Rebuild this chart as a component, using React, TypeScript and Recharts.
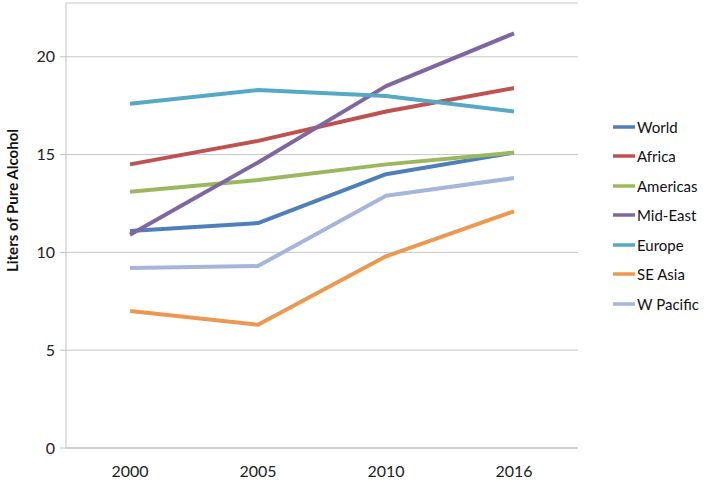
import { LineChart, Line, XAxis, YAxis, CartesianGrid, Legend, Label } from "recharts";

const years = ["2000", "2005", "2010", "2016"];

const world = [11.1, 11.5, 14.0, 15.1];
const africa = [14.5, 15.7, 17.2, 18.4];
const americas = [13.1, 13.7, 14.5, 15.1];
const midEast = [10.9, 14.6, 18.5, 21.2];
const europe = [17.6, 18.3, 18.0, 17.2];
const seAsia = [7.0, 6.3, 9.8, 12.1];
const wPacific = [9.2, 9.3, 12.9, 13.8];

const yTicks = [0, 5, 10, 15, 20];

const SERIES = [
  { key: "world", name: "World", values: world, color: "#4F7FB9" },
  { key: "africa", name: "Africa", values: africa, color: "#BE5250" },
  { key: "americas", name: "Americas", values: americas, color: "#9BB85E" },
  { key: "midEast", name: "Mid-East", values: midEast, color: "#7F66A1" },
  { key: "europe", name: "Europe", values: europe, color: "#55A9C2" },
  { key: "seAsia", name: "SE Asia", values: seAsia, color: "#EC9851" },
  { key: "wPacific", name: "W Pacific", values: wPacific, color: "#A5B6DA" },
];

const data = years.map((year, i) => {
  const row: Record<string, string | number> = { year };
  SERIES.forEach((s) => {
    row[s.key] = s.values[i];
  });
  return row;
});

const FONT = "Lato, 'Open Sans', sans-serif";
const AXIS = "#BFBFBF";

// keep the legend in series order (recharts sorts by name otherwise)
function LegendList() {
  return (
    <div style={{ fontFamily: FONT, fontSize: 15, color: "#111" }}>
      {SERIES.map((s) => (
        <div key={s.key} style={{ height: 29.5, display: "flex", alignItems: "center" }}>
          <svg width={22} height={6} style={{ display: "block" }}>
            <line x1={0} y1={3} x2={22} y2={3} stroke={s.color} strokeWidth={3.5} />
          </svg>
          <span style={{ marginLeft: 2 }}>{s.name}</span>
        </div>
      ))}
    </div>
  );
}

function YTitle(props: any) {
  const vb = props.viewBox || { x: 0, y: 0, width: 0, height: 0 };
  const cx = vb.x + 12;
  const cy = vb.y + vb.height / 2 - 25;
  return (
    <text
      x={cx}
      y={cy}
      transform={`rotate(-90, ${cx}, ${cy})`}
      textAnchor="middle"
      dominantBaseline="central"
      fontFamily={FONT}
      fontWeight="bold"
      fontSize={15}
      fill="#111"
    >
      Liters of Pure Alcohol
    </text>
  );
}

export default function App() {
  return (
    <div>
      <style>{`body{margin:0}`}</style>
      <LineChart
        width={709}
        height={483}
        data={data}
        margin={{ top: 3, right: 131, bottom: 0, left: 0 }}
      >
        <CartesianGrid xAxisId="main" vertical={false} stroke="#C6C6C6" />
        <XAxis
          xAxisId="edges"
          type="number"
          domain={[0, 4]}
          allowDataOverflow
          ticks={[0, 1, 2, 3, 4]}
          tick={false}
          tickSize={7}
          height={8}
          axisLine={{ stroke: AXIS }}
          tickLine={{ stroke: AXIS }}
        />
        <XAxis
          xAxisId="main"
          dataKey="year"
          scale="band"
          axisLine={false}
          tickLine={false}
          tickSize={0}
          tickMargin={10}
          height={27}
          tick={{ fontFamily: FONT, fontSize: 16, fill: "#222" }}
        />
        <YAxis
          width={66}
          type="number"
          domain={[0, 22.75]}
          allowDataOverflow
          ticks={yTicks}
          tickSize={6}
          tickMargin={5}
          axisLine={{ stroke: AXIS }}
          tickLine={{ stroke: AXIS }}
          tick={{ fontFamily: FONT, fontSize: 16, fill: "#222" }}
        >
          <Label content={<YTitle />} />
        </YAxis>
        <Legend
          layout="horizontal"
          verticalAlign="middle"
          align="center"
          wrapperStyle={{ left: 613, top: 112, width: 96, height: 207 }}
          content={<LegendList />}
        />
        {SERIES.map((s) => (
          <Line
            key={s.key}
            xAxisId="main"
            type="linear"
            dataKey={s.key}
            name={s.name}
            stroke={s.color}
            strokeWidth={4}
            strokeLinejoin="round"
            dot={false}
            activeDot={false}
            isAnimationActive={false}
          />
        ))}
      </LineChart>
    </div>
  );
}
